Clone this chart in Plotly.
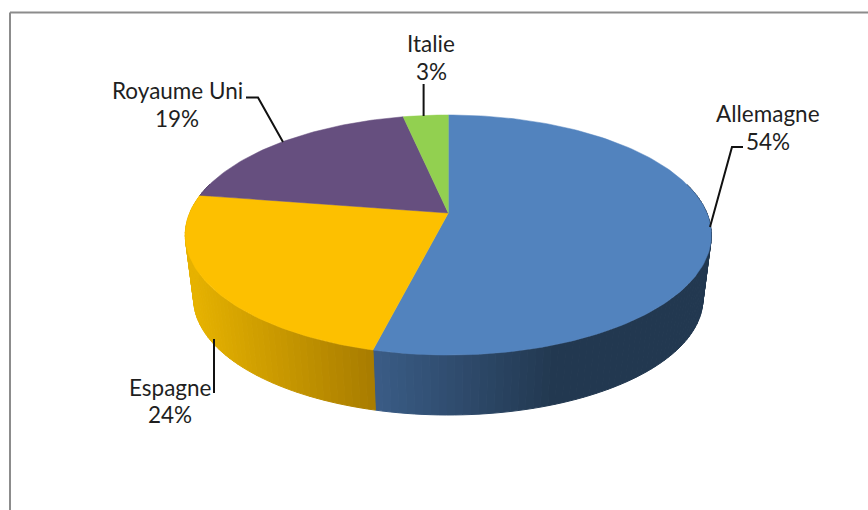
import numpy as np
import plotly.graph_objects as go

# Data
categories = ["Allemagne", "Espagne", "Royaume Uni", "Italie"]
values = [53.85, 23.65, 19.2, 3.3]
top_colors = ["#5283BE", "#FDC000", "#664F7F", "#92D050"]
# side shading: (x start, colour start, x end, colour end)
side_ramps = [
    (374, (58, 92, 134), 555, (34, 56, 80)),
    (190, (230, 178, 0), 372, (168, 124, 0)),
    (190, (70, 55, 90), 372, (70, 55, 90)),
    (190, (100, 145, 55), 372, (100, 145, 55)),
]

# Projection of the tilted disc (reference pixels)
CX, CY, A, B, K = 448.3, 213.0, 258.6, 116.0, 0.1833
DEPTH, SHRINK = 64.5, 0.968


def project(deg, r=1.0, bottom=False):
    t = np.radians(deg)
    X, Y = r * np.sin(t), r * np.cos(t)
    w = 1 + K * Y
    dx, dy = A * X / w, -B * Y / w
    if bottom:
        return CX + SHRINK * dx, CY + DEPTH + SHRINK * dy
    return CX + dx, CY + dy


def ramp(spec, x):
    x0, c0, x1, c1 = spec
    f = min(max((x - x0) / (x1 - x0), 0), 1)
    c = [round(a + (b - a) * f) for a, b in zip(c0, c1)]
    return f"rgb({c[0]},{c[1]},{c[2]})"


edges = np.concatenate([[0], np.cumsum(values)]) * 3.6
fig = go.Figure()

# Side wall, painted as thin vertical strips
for i in range(len(values)):
    a0, a1 = edges[i], edges[i + 1]
    n = max(2, int((a1 - a0) / 1.5))
    angs = np.linspace(a0, a1, n + 1)
    for u, v in zip(angs[:-1], angs[1:]):
        mid = (u + v) / 2
        if np.cos(np.radians(mid)) > 0.25:
            continue
        xt0, yt0 = project(u)
        xt1, yt1 = project(v)
        xb0, yb0 = project(u, bottom=True)
        xb1, yb1 = project(v, bottom=True)
        col = ramp(side_ramps[i], (xt0 + xt1) / 2)
        fig.add_trace(go.Scatter(
            x=[xt0, xt1, xb1, xb0, xt0], y=[yt0, yt1, yb1, yb0, yt0],
            mode="lines", fill="toself", fillcolor=col,
            line=dict(color=col, width=1), hoverinfo="skip", showlegend=False))

# Top face
for i, name in enumerate(categories):
    angs = np.linspace(edges[i], edges[i + 1], max(8, int(values[i] * 3)))
    xs, ys = project(angs)
    fig.add_trace(go.Scatter(
        x=np.concatenate([[CX], xs, [CX]]), y=np.concatenate([[CY], ys, [CY]]),
        mode="lines", fill="toself", fillcolor=top_colors[i],
        line=dict(color=top_colors[i], width=0.5), name=name,
        hoverinfo="skip", showlegend=False))

# Labels and leader lines
label_pos = {
    "Allemagne": (768, 113, 141),
    "Espagne": (170, 387, 414),
    "Royaume Uni": (177, 90, 118),
    "Italie": (431, 43, 71),
}
leaders = {
    "Allemagne": [(710, 227), (732, 147), (743, 147)],
    "Espagne": [(214, 339), (214, 393)],
    "Royaume Uni": [(283, 142), (258, 97.5), (246, 97.5)],
    "Italie": [(423.6, 84), (423.6, 116)],
}
annotations = []
shapes = []
for name, val in zip(categories, values):
    lx, y1, y2 = label_pos[name]
    for txt, y in ((name, y1), (f"{round(val)}%", y2)):
        annotations.append(dict(x=lx, y=y, xref="x", yref="y", text=txt, showarrow=False,
                                xanchor="center", yanchor="middle",
                                font=dict(family="Lato, Carlito, sans-serif", size=22.5, color="#1f1f1f")))
    pts = leaders[name]
    path = "M " + " L ".join(f"{x},{y}" for x, y in pts)
    shapes.append(dict(type="path", path=path, xref="x", yref="y",
                       line=dict(color="#111111", width=2)))

# Chart frame (cropped at right and bottom)
FRAME = "#8C8C8C"
shapes.append(dict(type="line", x0=10, y0=12.5, x1=868, y1=12.5, xref="x", yref="y",
                   line=dict(color=FRAME, width=2)))
shapes.append(dict(type="line", x0=10, y0=12.5, x1=10, y1=510, xref="x", yref="y",
                   line=dict(color=FRAME, width=2)))

fig.update_layout(
    width=868, height=510, margin=dict(l=0, r=0, t=0, b=0),
    paper_bgcolor="white", plot_bgcolor="white", showlegend=False,
    xaxis=dict(range=[0, 868], visible=False, fixedrange=True),
    yaxis=dict(range=[510, 0], visible=False, fixedrange=True),
    annotations=annotations, shapes=shapes,
)
fig.write_html("out.html", config={"displayModeBar": False},
               post_script="document.body.style.margin='0';document.body.style.overflow='hidden';")
